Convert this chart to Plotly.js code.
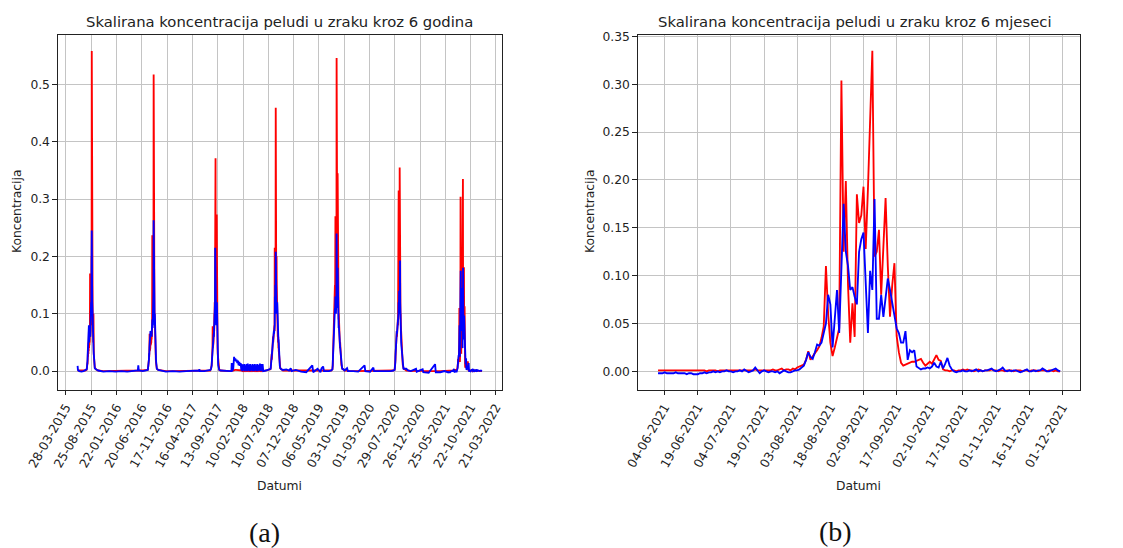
<!DOCTYPE html>
<html>
<head>
<meta charset="utf-8">
<script src="https://cdn.plot.ly/plotly-3.0.1.min.js"></script>
<style>html,body{margin:0;padding:0;background:#fff;}#chart{width:1123px;height:548px;}</style>
</head>
<body>
<div id="chart"></div>
<script>
// ================= DATA =================
// --- Left chart: off-season readings (sparse) ---
const baseDates = [
'2015-06-05','2015-06-07','2015-06-15','2015-06-28','2015-07-10','2015-07-20',
'2015-09-22','2015-10-05','2015-11-05','2015-12-10','2016-01-15','2016-02-20','2016-03-25','2016-04-28','2016-05-27','2016-05-30','2016-06-02','2016-06-25','2016-07-15',
'2016-09-25','2016-10-10','2016-11-10','2016-12-20','2017-01-30','2017-03-10','2017-04-20','2017-05-25','2017-05-27','2017-05-30','2017-06-25','2017-07-20',
'2017-09-30','2017-10-25','2017-11-25','2017-12-03','2017-12-05','2017-12-08','2017-12-14','2017-12-19','2017-12-22','2017-12-26','2017-12-30',
'2018-01-03','2018-01-07','2018-01-11','2018-01-15','2018-01-19','2018-01-23','2018-01-27','2018-01-31','2018-02-03','2018-02-06','2018-02-10','2018-02-13','2018-02-17','2018-02-20','2018-02-24','2018-02-27',
'2018-03-03','2018-03-06','2018-03-10','2018-03-13','2018-03-17','2018-03-20','2018-03-24','2018-03-27','2018-03-31','2018-04-03','2018-04-07','2018-04-10','2018-04-14','2018-04-17','2018-04-21','2018-04-24','2018-04-28',
'2018-05-01','2018-05-05','2018-05-08','2018-05-13','2018-05-16','2018-05-21','2018-05-24','2018-05-29','2018-06-01','2018-06-06','2018-06-10','2018-06-25','2018-07-10',
'2018-09-26','2018-10-05','2018-10-25','2018-11-10','2018-11-20','2018-11-25','2018-12-20','2019-01-20','2019-02-20','2019-03-28','2019-04-02','2019-04-28','2019-05-15','2019-05-22','2019-05-31','2019-06-05','2019-07-05','2019-07-18',
'2019-09-28','2019-10-05','2019-10-20','2019-10-25','2019-11-25','2019-12-25','2020-02-01','2020-02-05','2020-03-05','2020-03-24','2020-03-28','2020-05-01','2020-06-05','2020-07-05','2020-07-20',
'2020-09-27','2020-10-05','2020-10-15','2020-11-01','2020-12-02','2020-12-06','2021-01-10','2021-01-14','2021-02-15','2021-03-25','2021-03-29','2021-04-25','2021-05-20',
'2021-12-08','2021-12-15','2021-12-22','2021-12-28'
];
const baseRed = [
0.001,0.001,0.001,0.000,0.001,0.001,
0.003,0.001,0.000,0.000,0.000,0.000,0.000,0.001,0.001,0.002,0.001,0.001,0.001,
0.002,0.001,0.000,0.000,0.000,0.000,0.000,0.001,0.001,0.001,0.001,0.001,
0.001,0.000,0.000,0.000,0.001,0.001,0.001,0.002,0.002,0.002,0.002,
0.002,0.002,0.001,0.001,0.001,0.001,0.001,0.001,0.001,0.000,0.001,0.000,0.001,0.000,0.001,0.000,
0.001,0.000,0.001,0.000,0.001,0.000,0.001,0.000,0.001,0.000,0.001,0.000,0.001,0.000,0.001,0.000,0.001,
0.000,0.001,0.000,0.001,0.000,0.001,0.000,0.001,0.000,0.001,0.000,0.001,0.002,
0.003,0.001,0.001,0.001,0.001,0.000,0.000,0.000,0.000,0.001,0.000,0.001,0.000,0.001,0.001,0.000,0.001,0.001,
0.003,0.001,0.001,0.000,0.000,0.000,0.001,0.000,0.000,0.001,0.000,0.000,0.000,0.001,0.001,
0.003,0.001,0.001,0.000,0.001,0.000,0.001,0.000,0.000,0.001,0.000,0.000,0.000,
0.000,0.000,0.000,0.000
];
const baseBlue = [
0.009,0.002,0.000,-0.001,0.000,0.001,
0.003,0.001,-0.001,0.000,-0.001,0.000,-0.001,0.000,0.001,0.010,0.001,0.000,0.001,
0.002,0.001,-0.001,0.000,-0.001,0.000,0.000,0.001,0.003,0.000,0.000,0.001,
0.001,0.000,0.000,0.000,0.014,0.000,0.004,0.025,0.018,0.022,0.017,
0.020,0.014,0.018,0.010,0.016,0.009,0.014,0.001,0.012,0.000,0.011,0.001,0.012,0.000,0.010,0.001,
0.012,0.000,0.013,0.001,0.011,0.000,0.012,0.000,0.010,0.001,0.012,0.000,0.011,0.000,0.012,0.001,0.010,
0.000,0.012,0.000,0.011,0.001,0.013,0.000,0.012,0.000,0.012,0.000,0.001,0.002,
0.003,0.002,0.003,0.001,0.005,0.000,0.002,-0.001,-0.002,0.010,-0.002,0.004,-0.002,0.005,0.008,0.000,0.000,0.001,
0.003,0.001,0.005,0.000,0.000,-0.001,0.010,0.000,-0.001,0.006,0.000,0.000,-0.001,0.000,0.001,
0.004,0.004,0.001,0.000,0.004,-0.001,0.003,-0.002,-0.003,0.012,-0.002,-0.002,0.000,
0.001,0.000,0.001,0.000
];

// --- Left chart: pollen seasons, daily readings from each start date ---
const seasonStarts = ['2015-07-28','2016-07-25','2017-07-30','2018-07-22','2019-07-25','2020-07-28'];
const red2015 = [0.002,0.003,0.004,0.006,0.01,0.015,0.012,0.02,0.03,0.025, 0.04,0.03,0.05,0.035,0.07,0.04,0.06,0.045,0.065,0.05, 0.08,0.17,0.06,0.09,0.07,0.12,0.08,0.14,0.1,0.2, 0.15,0.558,0.2,0.25,0.29,0.15,0.12,0.08,0.1,0.06, 0.05,0.1,0.04,0.03,0.025,0.02,0.015,0.01,0.008,0.006];
const blue2015 = [0.002,0.003,0.004,0.006,0.01,0.015,0.02,0.03,0.04,0.035, 0.05,0.04,0.06,0.05,0.08,0.05,0.065,0.055,0.07,0.06, 0.07,0.08,0.06,0.09,0.07,0.1,0.08,0.12,0.1,0.15, 0.12,0.245,0.13,0.15,0.12,0.1,0.08,0.07,0.065,0.05, 0.045,0.065,0.035,0.03,0.025,0.02,0.015,0.01,0.007,0.005];
const red2016 = [0.002,0.003,0.005,0.004,0.008,0.01,0.015,0.02,0.03,0.025, 0.04,0.065,0.035,0.045,0.05,0.04,0.06,0.045,0.055,0.05, 0.06,0.05,0.065,0.055,0.07,0.06,0.08,0.237,0.1,0.12, 0.09,0.15,0.1,0.13,0.2,0.517,0.18,0.15,0.3,0.12, 0.09,0.1,0.07,0.08,0.05,0.06,0.04,0.03,0.02,0.015, 0.01,0.008,0.006,0.005,0.004];
const blue2016 = [0.002,0.003,0.005,0.005,0.008,0.012,0.015,0.02,0.03,0.03, 0.04,0.05,0.045,0.06,0.055,0.065,0.07,0.06,0.065,0.06, 0.07,0.065,0.07,0.06,0.07,0.065,0.075,0.09,0.08,0.075, 0.09,0.1,0.09,0.12,0.14,0.263,0.15,0.12,0.17,0.1, 0.09,0.08,0.1,0.07,0.1,0.06,0.05,0.04,0.03,0.02, 0.015,0.01,0.008,0.006,0.004];
const red2017 = [0.001,0.002,0.002,0.003,0.003,0.004,0.005,0.006,0.008,0.01, 0.015,0.02,0.03,0.025,0.04,0.078,0.04,0.05,0.045,0.06, 0.05,0.07,0.06,0.08,0.07,0.1,0.09,0.12,0.11,0.15, 0.2,0.16,0.371,0.12,0.15,0.1,0.12,0.1,0.09,0.273, 0.08,0.09,0.05,0.06,0.04,0.03,0.025,0.02,0.012,0.008, 0.006,0.005,0.004,0.003,0.002];
const blue2017 = [0.001,0.002,0.002,0.003,0.003,0.004,0.005,0.006,0.008,0.01, 0.015,0.02,0.03,0.03,0.04,0.05,0.045,0.055,0.05,0.06, 0.055,0.065,0.06,0.07,0.065,0.08,0.09,0.1,0.095,0.12, 0.215,0.13,0.15,0.1,0.11,0.09,0.08,0.09,0.08,0.1, 0.12,0.09,0.05,0.06,0.04,0.03,0.02,0.015,0.01,0.008, 0.006,0.005,0.004,0.003,0.002];
const red2018 = [0.003,0.005,0.004,0.01,0.02,0.03,0.02,0.025,0.03,0.02, 0.03,0.025,0.035,0.04,0.05,0.045,0.06,0.05,0.055,0.06, 0.05,0.07,0.06,0.065,0.08,0.07,0.215,0.2,0.1,0.15, 0.12,0.2,0.459,0.25,0.18,0.15,0.34,0.2,0.15,0.12, 0.1,0.15,0.08,0.1,0.06,0.07,0.05,0.06,0.04,0.05, 0.035,0.03,0.025,0.02,0.015,0.012,0.01,0.008,0.006,0.005];
const blue2018 = [0.003,0.004,0.004,0.008,0.012,0.015,0.018,0.02,0.025,0.02, 0.03,0.03,0.035,0.04,0.05,0.045,0.06,0.055,0.06,0.065, 0.06,0.07,0.065,0.07,0.075,0.07,0.08,0.13,0.1,0.15, 0.12,0.13,0.208,0.12,0.15,0.2,0.12,0.1,0.11,0.1, 0.1,0.12,0.08,0.09,0.06,0.065,0.055,0.06,0.05,0.055, 0.04,0.03,0.025,0.02,0.015,0.012,0.01,0.008,0.006,0.005];
const red2019 = [0.003,0.005,0.01,0.02,0.03,0.04,0.05,0.06,0.07,0.08, 0.09,0.1,0.08,0.12,0.1,0.15,0.12,0.18,0.27,0.15, 0.18,0.13,0.2,0.15,0.16,0.546,0.25,0.2,0.3,0.18, 0.22,0.345,0.2,0.15,0.12,0.13,0.1,0.09,0.1,0.08, 0.07,0.08,0.06,0.05,0.06,0.04,0.05,0.035,0.03,0.025, 0.02,0.018,0.015,0.012,0.01,0.008,0.007,0.006,0.005,0.004];
const blue2019 = [0.003,0.005,0.01,0.02,0.03,0.04,0.05,0.06,0.07,0.08, 0.09,0.1,0.085,0.1,0.095,0.11,0.1,0.12,0.13,0.1, 0.11,0.1,0.12,0.11,0.13,0.24,0.15,0.12,0.13,0.11, 0.13,0.18,0.12,0.1,0.09,0.1,0.08,0.075,0.08,0.065, 0.06,0.065,0.055,0.05,0.05,0.045,0.04,0.035,0.03,0.025, 0.02,0.018,0.015,0.012,0.01,0.008,0.007,0.006,0.005,0.004];
const red2020 = [0.002,0.004,0.006,0.01,0.015,0.02,0.03,0.04,0.035,0.05, 0.045,0.06,0.05,0.07,0.06,0.075,0.065,0.08,0.07,0.09, 0.08,0.15,0.1,0.12,0.315,0.12,0.1,0.2,0.13,0.15, 0.355,0.2,0.15,0.12,0.1,0.09,0.1,0.08,0.07,0.06, 0.05,0.045,0.04,0.035,0.03,0.025,0.02,0.015,0.012,0.01, 0.008,0.007,0.006,0.005,0.004];
const blue2020 = [0.002,0.004,0.006,0.01,0.015,0.025,0.035,0.045,0.05,0.055, 0.05,0.06,0.065,0.07,0.065,0.07,0.075,0.08,0.075,0.085, 0.08,0.09,0.085,0.1,0.12,0.1,0.11,0.14,0.12,0.13, 0.15,0.12,0.193,0.12,0.09,0.1,0.08,0.07,0.06,0.05, 0.045,0.04,0.035,0.03,0.025,0.02,0.016,0.013,0.01,0.008, 0.007,0.006,0.005,0.005,0.004];

// --- Right chart: 6 months, daily readings from 2021-06-01 (also part of left chart) ---
const rightStart = '2021-06-01';
const rightRed = [
0.001,0.001,0.001,0.001,0.001,0.001,0.001,0.001,0.001,0.001,
0.001,0.001,0.001,0.001,0.001,0.001,0.001,0.001,0.001,0.001,
0.001,0.001,0.000,0.001,0.001,0.001,0.001,0.000,0.001,0.001,
0.001,0.001,0.001,0.001,0.001,0.001,0.001,0.001,0.001,0.001,
0.001,0.001,0.001,0.001,0.002,0.001,0.001,0.001,0.001,0.001,
0.001,0.001,0.002,0.001,0.001,0.002,0.003,0.001,0.002,0.002,
0.001,0.003,0.002,0.004,0.005,0.006,0.007,0.012,0.021,0.012,
0.016,0.019,0.022,0.026,0.035,0.047,0.11,0.06,0.03,0.016,
0.025,0.035,0.045,0.304,0.125,0.199,0.09,0.03,0.071,0.036,
0.185,0.155,0.163,0.193,0.128,0.19,0.26,0.335,0.12,0.125,
0.148,0.08,0.13,0.181,0.11,0.057,0.09,0.113,0.037,0.02,
0.009,0.006,0.007,0.008,0.009,0.01,0.01,0.011,0.012,0.013,
0.009,0.006,0.008,0.01,0.008,0.012,0.017,0.012,0.011,0.002,
0.001,0.001,0.000,0.001,0.001,0.000,0.001,0.001,0.002,0.001,
0.002,0.001,0.001,0.000,0.001,0.002,0.001,0.000,0.001,0.001,
0.001,0.002,0.001,0.001,0.000,0.001,0.001,0.000,0.001,0.001,
0.001,0.000,0.001,0.001,0.001,0.000,0.001,0.001,0.000,0.001,
0.001,0.001,0.000,0.001,0.001,0.001,0.000,0.001,0.001,0.000,
0.001,0.000,0.000
];
const rightBlue = [
-0.002,-0.002,-0.002,-0.001,-0.002,-0.002,-0.002,-0.002,-0.001,-0.002,
-0.002,-0.002,-0.002,-0.003,-0.002,-0.002,-0.003,-0.003,-0.003,-0.002,
-0.002,-0.001,-0.002,-0.001,-0.001,0.000,-0.001,0.000,-0.001,0.000,
0.000,0.001,0.000,0.000,-0.001,0.000,0.000,0.001,0.000,0.002,
0.000,-0.001,0.000,0.001,0.004,0.001,-0.002,0.000,0.001,0.000,
-0.001,0.000,0.000,-0.001,0.000,-0.002,0.000,0.001,0.000,-0.001,
-0.001,0.000,0.001,0.001,0.002,0.004,0.006,0.012,0.02,0.015,
0.013,0.02,0.028,0.027,0.03,0.04,0.05,0.08,0.07,0.025,
0.06,0.085,0.04,0.12,0.175,0.125,0.11,0.085,0.088,0.078,
0.07,0.125,0.138,0.145,0.09,0.04,0.105,0.085,0.18,0.055,
0.055,0.08,0.057,0.075,0.097,0.085,0.07,0.055,0.045,0.04,
0.03,0.03,0.042,0.012,0.022,0.02,0.022,0.005,0.003,0.002,
0.003,0.003,0.004,0.003,0.005,0.009,0.005,0.004,0.01,0.003,
0.008,0.014,0.006,0.002,0.000,-0.001,0.000,0.000,0.001,0.000,
0.000,0.001,0.000,0.001,0.002,0.000,0.001,0.000,0.001,0.001,
0.002,0.003,0.001,0.000,0.001,0.002,0.004,0.001,0.000,0.001,
0.000,0.001,0.001,0.000,-0.001,0.000,0.001,0.002,0.000,0.000,
0.001,0.000,0.001,0.001,0.003,0.001,0.000,0.000,0.001,0.002,
0.003,0.001,0.000
];

// --- Tick labels and texts ---
const leftTickDates = ['2015-03-28','2015-08-25','2016-01-22','2016-06-20','2016-11-17','2017-04-16','2017-09-13','2018-02-10','2018-07-10','2018-12-07','2019-05-06','2019-10-03','2020-03-01','2020-07-29','2020-12-26','2021-05-25','2021-10-22','2022-03-21'];
const rightTickDates = ['2021-06-04','2021-06-19','2021-07-04','2021-07-19','2021-08-03','2021-08-18','2021-09-02','2021-09-17','2021-10-02','2021-10-17','2021-11-01','2021-11-16','2021-12-01'];
const leftYTicks = [0.0,0.1,0.2,0.3,0.4,0.5];
const rightYTicks = [0.00,0.05,0.10,0.15,0.20,0.25,0.30,0.35];
const titleLeft = 'Skalirana koncentracija peludi u zraku kroz 6 godina';
const titleRight = 'Skalirana koncentracija peludi u zraku kroz 6 mjeseci';
const xLabel = 'Datumi';
const yLabel = 'Koncentracija';

// ================= BUILD =================
function dailyDates(start, n) {
  const p = start.split('-').map(Number);
  const out = [];
  for (let i = 0; i < n; i++) out.push(new Date(Date.UTC(p[0], p[1]-1, p[2]+i)).toISOString().slice(0,10));
  return out;
}
const rightDates = dailyDates(rightStart, rightRed.length);

const seasonRed = [red2015, red2016, red2017, red2018, red2019, red2020];
const seasonBlue = [blue2015, blue2016, blue2017, blue2018, blue2019, blue2020];

let pts = [];
baseDates.forEach((d, i) => pts.push([d, baseRed[i], baseBlue[i]]));
seasonStarts.forEach((s, k) => {
  dailyDates(s, seasonRed[k].length).forEach((d, i) => pts.push([d, seasonRed[k][i], seasonBlue[k][i]]));
});
rightDates.forEach((d, i) => pts.push([d, rightRed[i], rightBlue[i]]));
pts.sort((a, b) => a[0] < b[0] ? -1 : a[0] > b[0] ? 1 : 0);

const allDates = pts.map(p => p[0]);
const allRed = pts.map(p => p[1]);
const allBlue = pts.map(p => p[2]);

const LW = 1.85;
const traces = [
  {x: allDates, y: allRed, xaxis:'x', yaxis:'y', mode:'lines', line:{color:'#ff0000', width:LW}, hoverinfo:'skip'},
  {x: allDates, y: allBlue, xaxis:'x', yaxis:'y', mode:'lines', line:{color:'#0000ff', width:LW}, hoverinfo:'skip'},
  {x: rightDates, y: rightRed, xaxis:'x2', yaxis:'y2', mode:'lines', line:{color:'#ff0000', width:LW}, hoverinfo:'skip'},
  {x: rightDates, y: rightBlue, xaxis:'x2', yaxis:'y2', mode:'lines', line:{color:'#0000ff', width:LW}, hoverinfo:'skip'}
];

const W = 1123, H = 548;
const txt = '#222222';
const tickFont = {family:'DejaVu Sans', size:12.3, color:txt};
const common = {
  showline:true, mirror:true, linecolor:'#222', linewidth:1,
  ticks:'outside', ticklen:4.3, tickwidth:1, tickcolor:'#222',
  showgrid:true, gridcolor:'#c4c4c4', gridwidth:1, zeroline:false,
  tickfont:tickFont, automargin:false, fixedrange:true
};
const yDom = [1-390/H, 1-35/H];

const layout = {
  width:W, height:H, margin:{l:0,r:0,t:0,b:0},
  paper_bgcolor:'#ffffff', plot_bgcolor:'#ffffff', showlegend:false,
  xaxis: Object.assign({}, common, {type:'date', domain:[57.7/W, 501.7/W], range:['2015-02-07','2022-04-24'],
    tickmode:'array', tickvals:leftTickDates, tickformat:'%d-%m-%Y', tickangle:-60, anchor:'y'}),
  yaxis: Object.assign({}, common, {domain:yDom, range:[-0.033, 0.586], tickmode:'array', tickvals:leftYTicks, tickformat:'.1f', anchor:'x'}),
  xaxis2: Object.assign({}, common, {type:'date', domain:[637.7/W, 1080/W], range:['2021-05-22 19:00','2021-12-09'],
    tickmode:'array', tickvals:rightTickDates, tickformat:'%d-%m-%Y', tickangle:-60, anchor:'y2'}),
  yaxis2: Object.assign({}, common, {domain:yDom, range:[-0.0195, 0.3515], tickmode:'array', tickvals:rightYTicks, tickformat:'.2f', anchor:'x2'}),
  annotations: [
    {text:titleLeft, x:279.7/W, y:1-21.5/H, xref:'paper', yref:'paper', xanchor:'center', yanchor:'middle', showarrow:false, font:{family:'DejaVu Sans', size:14.8, color:txt}},
    {text:titleRight, x:855/W, y:1-21.5/H, xref:'paper', yref:'paper', xanchor:'center', yanchor:'middle', showarrow:false, font:{family:'DejaVu Sans', size:14.8, color:txt}},
    {text:xLabel, x:279/W, y:1-486/H, xref:'paper', yref:'paper', xanchor:'center', yanchor:'middle', showarrow:false, font:{family:'DejaVu Sans', size:12.3, color:txt}},
    {text:xLabel, x:858/W, y:1-486/H, xref:'paper', yref:'paper', xanchor:'center', yanchor:'middle', showarrow:false, font:{family:'DejaVu Sans', size:12.3, color:txt}},
    {text:yLabel, x:17/W, y:1-212/H, xref:'paper', yref:'paper', xanchor:'center', yanchor:'middle', textangle:-90, showarrow:false, font:{family:'DejaVu Sans', size:12.3, color:txt}},
    {text:yLabel, x:590/W, y:1-212/H, xref:'paper', yref:'paper', xanchor:'center', yanchor:'middle', textangle:-90, showarrow:false, font:{family:'DejaVu Sans', size:12.3, color:txt}},
    {text:'(a)', x:264/W, y:1-532/H, xref:'paper', yref:'paper', xanchor:'center', yanchor:'middle', showarrow:false, font:{family:'Liberation Serif', size:28, color:'#111'}},
    {text:'(b)', x:835/W, y:1-531/H, xref:'paper', yref:'paper', xanchor:'center', yanchor:'middle', showarrow:false, font:{family:'Liberation Serif', size:28, color:'#111'}}
  ]
};

Plotly.newPlot('chart', traces, layout, {staticPlot:true, displayModeBar:false});
</script>
</body>
</html>
